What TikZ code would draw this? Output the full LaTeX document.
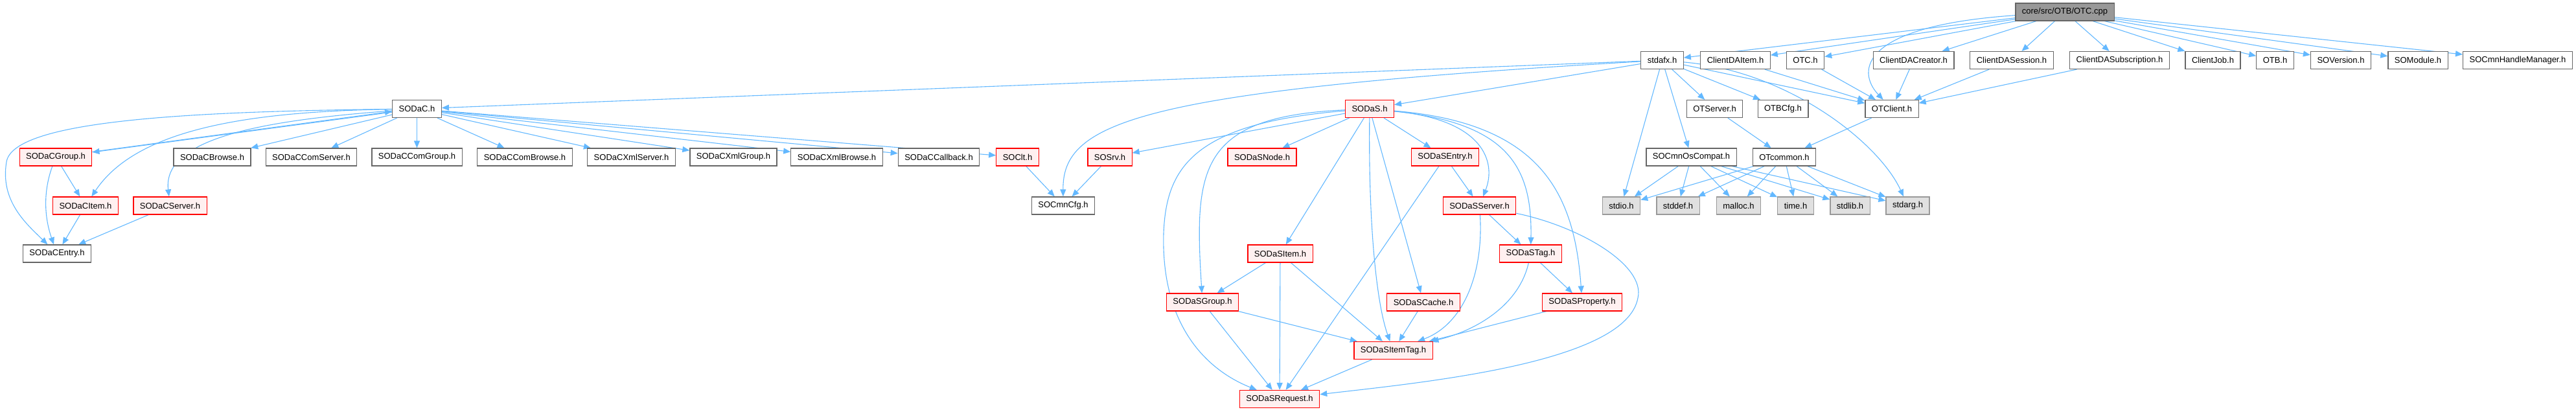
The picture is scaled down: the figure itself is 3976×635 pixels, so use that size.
\documentclass[tikz,border=0pt]{standalone}
\usepackage{fontspec}
\setmainfont{Liberation Sans}
\usetikzlibrary{arrows.meta}

\definecolor{edgeblue}{HTML}{63B8FF}
\definecolor{boxgray}{HTML}{666666}
\definecolor{sysgray}{HTML}{999999}
\definecolor{sysfill}{HTML}{E0E0E0}
\definecolor{redfill}{HTML}{FFF0F0}
\definecolor{rootfill}{HTML}{999999}

\pgfdeclarelayer{background}
\pgfsetlayers{background,main}

\begin{document}
\begin{tikzpicture}[
    x=1pt, y=-1pt,
    file_node/.style={rectangle, draw=boxgray, fill=white, line width=1.2pt, minimum height=27pt, inner xsep=10pt, inner ysep=0pt, font=\fontsize{13}{15}\selectfont},
    red_node/.style={file_node, draw=red, fill=redfill},
    sys_node/.style={file_node, draw=sysgray, fill=sysfill},
    root_node/.style={file_node, draw=boxgray, fill=rootfill},
    edge_inc/.style={-{Triangle[length=11pt, width=9pt]}, draw=edgeblue, line width=1.1pt}
  ]
    \useasboundingbox (0,0) rectangle (3976,635);

    % top rows
    \node[root_node] (root) at (3187,18.5) {core/src/OTB/OTC.cpp};
    \node[file_node] (stdafx) at (2565.5,93) {stdafx.h};
    \node[file_node] (cdaitem) at (2678.5,93) {ClientDAItem.h};
    \node[file_node] (otc) at (2786.5,93) {OTC.h};
    \node[file_node] (cdacreator) at (2953.5,93) {ClientDACreator.h};
    \node[file_node] (cdasession) at (3105,93) {ClientDASession.h};
    \node[file_node] (cdasubscr) at (3271.5,93) {ClientDASubscription.h};
    \node[file_node] (clientjob) at (3415.5,93) {ClientJob.h};
    \node[file_node] (otb) at (3511.5,93) {OTB.h};
    \node[file_node] (soversion) at (3613,93) {SOVersion.h};
    \node[file_node] (somodule) at (3732,93) {SOModule.h};
    \node[file_node] (sohandlemgr) at (3886,93) {SOCmnHandleManager.h};

    \node[file_node] (sodac) at (643.5,168) {SODaC.h};
    \node[red_node] (sodas) at (2114,168) {SODaS.h};
    \node[file_node] (otserver) at (2646.5,168) {OTServer.h};
    \node[file_node] (otbcfg) at (2752,168) {OTBCfg.h};
    \node[file_node] (otclient) at (2920,168) {OTClient.h};

    % client side
    \node[red_node] (sodacgroup) at (86,242.5) {SODaCGroup.h};
    \node[file_node] (sodacbrowse) at (327.5,242.5) {SODaCBrowse.h};
    \node[file_node] (sodaccomserver) at (480.5,242.5) {SODaCComServer.h};
    \node[file_node] (sodaccomgroup) at (643.5,242.5) {SODaCComGroup.h};
    \node[file_node] (sodaccombrowse) at (810,242.5) {SODaCComBrowse.h};
    \node[file_node] (sodacxmlserver) at (974.5,242.5) {SODaCXmlServer.h};
    \node[file_node] (sodacxmlgroup) at (1132,242.5) {SODaCXmlGroup.h};
    \node[file_node] (sodacxmlbrowse) at (1291.5,242.5) {SODaCXmlBrowse.h};
    \node[file_node] (sodaccallback) at (1449,242.5) {SODaCCallback.h};
    \node[red_node] (soclt) at (1570.5,242.5) {SOClt.h};
    \node[red_node] (sosrv) at (1713,242.5) {SOSrv.h};
    \node[red_node] (sodasnode) at (1948,242.5) {SODaSNode.h};
    \node[red_node] (sodasentry) at (2230.5,242.5) {SODaSEntry.h};
    \node[file_node] (soosompat) at (2610.5,242.5) {SOCmnOsCompat.h};
    \node[file_node] (otcommon) at (2754,242.5) {OTcommon.h};

    \node[red_node] (sodacitem) at (132,317.5) {SODaCItem.h};
    \node[red_node] (sodacserver) at (262.5,317.5) {SODaCServer.h};
    \node[file_node] (socmncfg) at (1641,317.5) {SOCmnCfg.h};
    \node[red_node] (sodasserver) at (2283.5,317.5) {SODaSServer.h};
    \node[sys_node] (stdio) at (2502.5,317.5) {stdio.h};
    \node[sys_node] (stddef) at (2590,317.5) {stddef.h};
    \node[sys_node] (malloc) at (2683.5,317.5) {malloc.h};
    \node[sys_node] (time) at (2771.5,317.5) {time.h};
    \node[sys_node] (stdlib) at (2855.5,317.5) {stdlib.h};
    \node[sys_node] (stdarg) at (2944.5,317.5) {stdarg.h};

    \node[file_node] (sodacentry) at (88,391.5) {SODaCEntry.h};
    \node[red_node] (sodasitem) at (1976,391.5) {SODaSItem.h};
    \node[red_node] (sodastag) at (2362.5,391.5) {SODaSTag.h};

    \node[red_node] (sodasgroup) at (1856,466.5) {SODaSGroup.h};
    \node[red_node] (sodascache) at (2197,466.5) {SODaSCache.h};
    \node[red_node] (sodasproperty) at (2442,466.5) {SODaSProperty.h};
    \node[red_node] (sodasitemtag) at (2150.5,541) {SODaSItemTag.h};
    \node[red_node] (sodasrequest) at (1975,616) {SODaSRequest.h};

    \begin{pgfonlayer}{background}
    % edges from the source file
    \draw[edge_inc] (root) -- (stdafx);
    \draw[edge_inc] (root) -- (cdaitem);
    \draw[edge_inc] (root) -- (otc);
    \draw[edge_inc] (root) .. controls (2870,40) and (2865,110) .. (otclient);
    \draw[edge_inc] (root) -- (cdacreator);
    \draw[edge_inc] (root) -- (cdasession);
    \draw[edge_inc] (root) -- (cdasubscr);
    \draw[edge_inc] (root) -- (clientjob);
    \draw[edge_inc] (root) -- (otb);
    \draw[edge_inc] (root) -- (soversion);
    \draw[edge_inc] (root) -- (somodule);
    \draw[edge_inc] (root) -- (sohandlemgr);

    % stdafx.h
    \draw[edge_inc] (stdafx) -- (sodac);
    \draw[edge_inc] (stdafx) -- (sodas);
    \draw[edge_inc] (stdafx) .. controls (1750,140) and (1640,190) .. (socmncfg);
    \draw[edge_inc] (stdafx) -- (otserver);
    \draw[edge_inc] (stdafx) -- (otbcfg);
    \draw[edge_inc] (stdafx) -- (otclient);
    \draw[edge_inc] (stdafx) -- (soosompat);
    \draw[edge_inc] (stdafx) -- (stdio);
    \draw[edge_inc] (stdafx) .. controls (2760,110) and (2900,220) .. (stdarg);

    \draw[edge_inc] (cdaitem) -- (otclient);
    \draw[edge_inc] (otc) -- (otclient);
    \draw[edge_inc] (cdacreator) -- (otclient);
    \draw[edge_inc] (cdasession) -- (otclient);
    \draw[edge_inc] (cdasubscr) -- (otclient);
    \draw[edge_inc] (otclient) -- (otcommon);
    \draw[edge_inc] (otserver) -- (otcommon);

    % system headers
    \draw[edge_inc] (soosompat) -- (stdio);
    \draw[edge_inc] (soosompat) -- (stddef);
    \draw[edge_inc] (soosompat) -- (malloc);
    \draw[edge_inc] (soosompat) -- (time);
    \draw[edge_inc] (soosompat) -- (stdlib);
    \draw[edge_inc] (soosompat) -- (stdarg);
    \draw[edge_inc] (otcommon) -- (stdio);
    \draw[edge_inc] (otcommon) -- (stddef);
    \draw[edge_inc] (otcommon) -- (malloc);
    \draw[edge_inc] (otcommon) -- (time);
    \draw[edge_inc] (otcommon) -- (stdlib);
    \draw[edge_inc] (otcommon) -- (stdarg);

    % SODaC.h
    \draw[edge_inc] (sodac) -- (sodacgroup);
    \draw[edge_inc] ([yshift=-6pt]sodacgroup.north east) -- ([yshift=-4pt]sodac.west);
    \draw[edge_inc] (sodac) .. controls (380,172) and (210,200) .. (sodacitem);
    \draw[edge_inc] (sodac) .. controls (420,185) and (250,210) .. (sodacserver);
    \draw[edge_inc] (sodac) .. controls (300,172) and (20,185) .. (10,250) .. controls (0,310) and (40,345) .. (sodacentry);
    \draw[edge_inc] (sodac) -- (sodacbrowse);
    \draw[edge_inc] (sodac) -- (sodaccomserver);
    \draw[edge_inc] (sodac) -- (sodaccomgroup);
    \draw[edge_inc] (sodac) -- (sodaccombrowse);
    \draw[edge_inc] (sodac) -- (sodacxmlserver);
    \draw[edge_inc] (sodac) -- (sodacxmlgroup);
    \draw[edge_inc] (sodac) -- (sodacxmlbrowse);
    \draw[edge_inc] (sodac) -- (sodaccallback);
    \draw[edge_inc] (sodac) -- (soclt);

    \draw[edge_inc] (sodacgroup) -- (sodacitem);
    \draw[edge_inc] (sodacgroup) .. controls (65,300) and (70,340) .. (sodacentry);
    \draw[edge_inc] (sodacitem) -- (sodacentry);
    \draw[edge_inc] (sodacserver) -- (sodacentry);
    \draw[edge_inc] (soclt) -- (socmncfg);
    \draw[edge_inc] (sosrv) -- (socmncfg);

    % SODaS.h
    \draw[edge_inc] (sodas) -- (sosrv);
    \draw[edge_inc] (sodas) -- (sodasnode);
    \draw[edge_inc] (sodas) -- (sodasitem);
    \draw[edge_inc] (sodas) -- (sodasentry);
    \draw[edge_inc] (sodas) -- (sodascache);
    \draw[edge_inc] (sodas) .. controls (2112,350) and (2125,470) .. (sodasitemtag);
    \draw[edge_inc] (sodas) .. controls (1850,180) and (1843,260) .. (sodasgroup);
    \draw[edge_inc] (sodas) .. controls (1840,190) and (1800,260) .. (1796,360) .. controls (1792,500) and (1860,570) .. (sodasrequest);
    \draw[edge_inc] (sodas) .. controls (2290,185) and (2310,250) .. (sodasserver);
    \draw[edge_inc] (sodas) .. controls (2330,190) and (2365,260) .. (sodastag);
    \draw[edge_inc] (sodas) .. controls (2380,190) and (2430,300) .. (sodasproperty);

    \draw[edge_inc] (sodasentry) -- (sodasserver);
    \draw[edge_inc] (sodasentry) -- (sodasrequest);
    \draw[edge_inc] (sodasserver) -- (sodastag);
    \draw[edge_inc] (sodasserver) .. controls (2290,420) and (2260,500) .. (sodasitemtag);
    \draw[edge_inc] (sodasserver) .. controls (2440,350) and (2540,410) .. (2528,460) .. controls (2510,560) and (2200,590) .. (sodasrequest);
    \draw[edge_inc] (sodasitem) -- (sodasgroup);
    \draw[edge_inc] (sodasitem) -- (sodasrequest);
    \draw[edge_inc] (sodasitem) -- (sodasitemtag);
    \draw[edge_inc] (sodasgroup) -- (sodasitemtag);
    \draw[edge_inc] (sodasgroup) -- (sodasrequest);
    \draw[edge_inc] (sodascache) -- (sodasitemtag);
    \draw[edge_inc] (sodastag) -- (sodasproperty);
    \draw[edge_inc] (sodastag) .. controls (2345,470) and (2280,510) .. (sodasitemtag);
    \draw[edge_inc] (sodasproperty) -- (sodasitemtag);
    \draw[edge_inc] (sodasitemtag) -- (sodasrequest);
    \end{pgfonlayer}
\end{tikzpicture}
\end{document}
